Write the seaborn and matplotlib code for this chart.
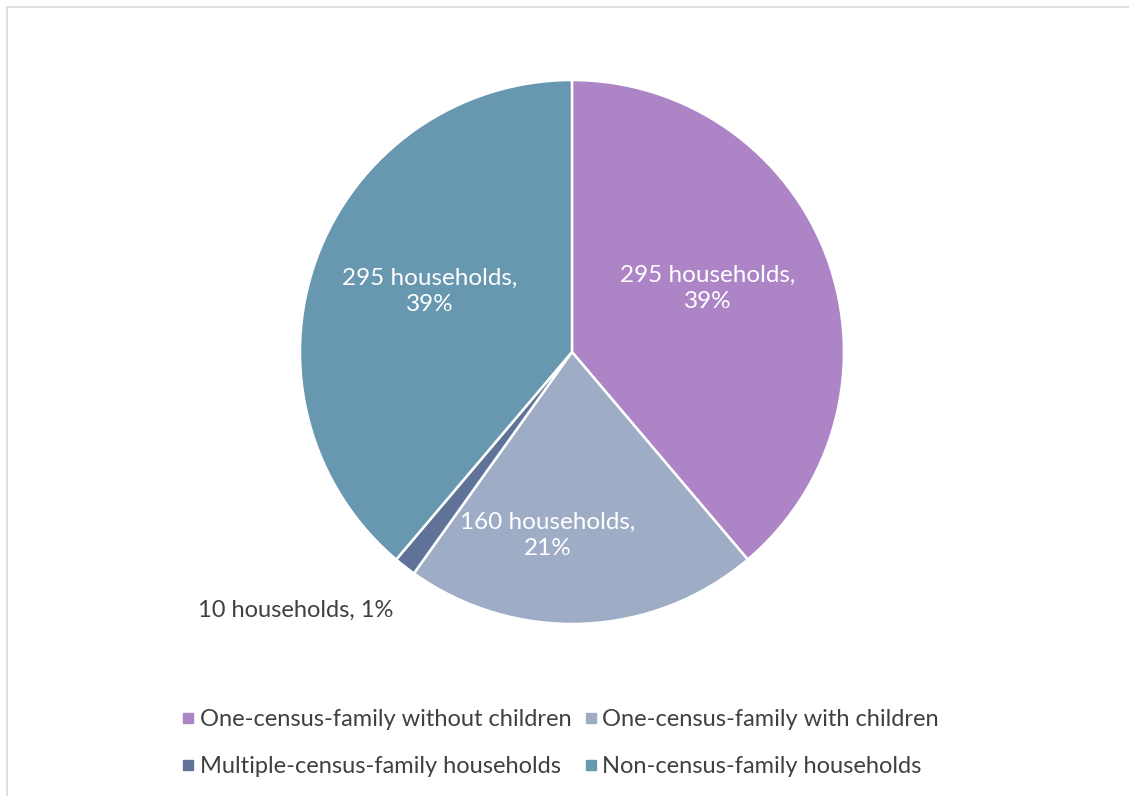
import matplotlib.pyplot as plt
import numpy as np
import seaborn as sns
from matplotlib.lines import Line2D

sns.set_style("white")
plt.rcParams["font.family"] = ["Lato", "DejaVu Sans"]

categories = ["One-census-family without children", "One-census-family with children",
              "Multiple-census-family households", "Non-census-family households"]
households = [295, 160, 10, 295]
percents = [39, 21, 1, 39]
colors = sns.color_palette(["#AD84C6", "#9FACC6", "#5F7399", "#6798B0"])

# label placement per slice (radial factor, angle shift in degrees)
label_r = [0.55, 0.68, 1.39, 0.57]
label_shift = [5, -10, -9, -3]
label_inside = [True, True, False, True]

fig = plt.figure(figsize=(11.29, 7.96), dpi=100)
ax = fig.add_axes([0.2657, 0.2161, 0.4818, 0.6834])

wedges, _ = ax.pie(households, colors=colors, startangle=90, counterclock=False,
                   radius=1, wedgeprops=dict(edgecolor="white", linewidth=1.8))

for w, n, p, r, s, inside in zip(wedges, households, percents, label_r, label_shift, label_inside):
    ang = np.deg2rad((w.theta1 + w.theta2) / 2 + s)
    x, y = r * np.cos(ang), r * np.sin(ang)
    if inside:
        ax.text(x, y, f"{n} households,\n{p}%", ha="center", va="center",
                color="white", fontsize=17.5, linespacing=1.3)
    else:
        ax.text(x, y, f"{n} households, {p}%", ha="center", va="center",
                color="#404040", fontsize=17)

ax.set_xlim(-1, 1)
ax.set_ylim(-1, 1)
ax.set_aspect("equal")
ax.axis("off")

# legend fills row by row, matplotlib fills column by column
order = [0, 2, 1, 3]
handles = [Line2D([], [], marker="s", linestyle="none", markersize=7,
                  markerfacecolor=colors[i], markeredgecolor=colors[i]) for i in order]
fig.legend(handles, [categories[i] for i in order], loc="center", bbox_to_anchor=(0.495, 0.0666),
           ncol=2, frameon=False, fontsize=17, labelcolor="#404040", handletextpad=0.1,
           columnspacing=0.4, handlelength=0.8, labelspacing=1.1)

# chart area border (only top and left are inside the picture)
fig.add_artist(Line2D([7 / 1129, 7 / 1129], [0, 1 - 7 / 796], color="#D9D9D9", lw=1.2))
fig.add_artist(Line2D([7 / 1129, 1], [1 - 7 / 796, 1 - 7 / 796], color="#D9D9D9", lw=1.2))

fig.savefig("out.png", dpi=100)
